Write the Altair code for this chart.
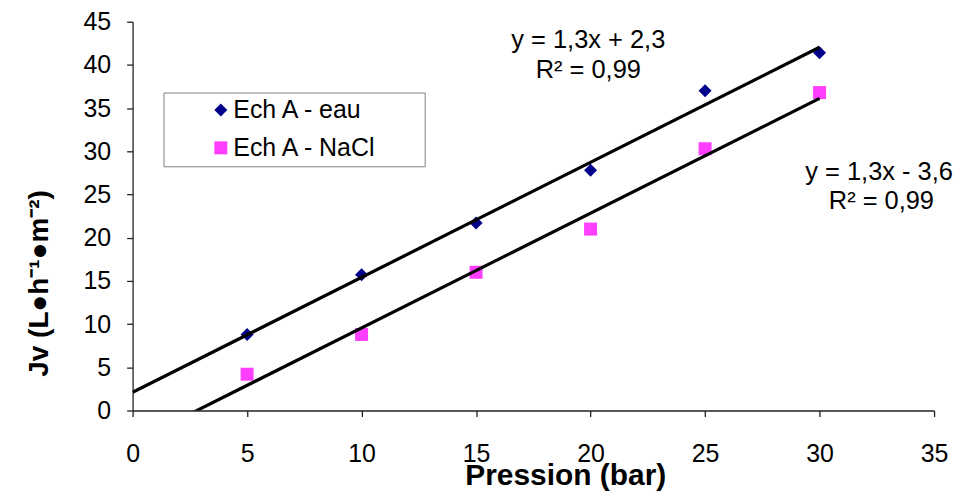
import altair as alt
import pandas as pd

pression = [5, 10, 15, 20, 25, 30]
jv_eau = [8.8, 15.7, 21.7, 27.8, 37.0, 41.4]
jv_nacl = [4.2, 8.8, 16.0, 21.0, 30.3, 36.8]
series = ["Ech A - eau", "Ech A - NaCl"]
colors = ["#00008B", "#FF3FFF"]
shapes = ["diamond", "square"]

eq_text = ["y = 1,3x + 2,3", "R² = 0,99", "y = 1,3x - 3,6", "R² = 0,99"]
eq_x = [19.9, 19.9, 32.6, 32.7]
eq_y = [42.9, 39.4, 27.6, 24.2]

x_ticks = [0, 5, 10, 15, 20, 25, 30, 35]
y_ticks = [0, 5, 10, 15, 20, 25, 30, 35, 40, 45]

FONT = "Liberation Sans, Arial, Helvetica, sans-serif"
PAD = " " * 6 + "\u200b"

rows = []
for p, v in zip(pression, jv_eau):
    rows.append({"pression": p, "jv": v, "serie": series[0]})
for p, v in zip(pression, jv_nacl):
    rows.append({"pression": p, "jv": v, "serie": series[1]})
df = pd.DataFrame(rows)
ann = pd.DataFrame({"x": eq_x, "y": eq_y, "t": eq_text})

xscale = alt.Scale(domain=[0, 35], nice=False, zero=False)
yscale = alt.Scale(domain=[0, 45], nice=False, zero=False)

xaxis = alt.Axis(
    values=x_ticks, grid=False, title="Pression (bar)", labelFlush=False,
    labelFontSize=25, labelFont=FONT, labelColor="#000", labelPadding=25,
    tickSize=6, tickColor="#222", domainColor="#222", tickWidth=1.3, domainWidth=1.3,
    titleFont=FONT, titleFontSize=30, titleFontWeight="bold", titleColor="#000",
    titleX=434, titleY=74, titleBaseline="alphabetic", titleAlign="center",
)
yaxis = alt.Axis(
    values=y_ticks, grid=False, title="Jv (L●h⁻¹●m⁻²)", labelFlush=False,
    labelFontSize=25, labelFont=FONT, labelColor="#000", labelPadding=16,
    tickSize=6, tickColor="#222", domainColor="#222", tickWidth=1.3, domainWidth=1.3,
    titleFont=FONT, titleFontSize=28, titleFontWeight="bold", titleColor="#000",
    titleX=-85, titleY=262, titleAngle=270, titleBaseline="alphabetic", titleAlign="center",
)

points = alt.Chart(df).mark_point(filled=True, opacity=1, size=170).encode(
    x=alt.X("pression:Q", scale=xscale, axis=xaxis),
    y=alt.Y("jv:Q", scale=yscale, axis=yaxis),
    color=alt.Color("serie:N", scale=alt.Scale(domain=series, range=colors),
                    legend=alt.Legend(
                        title=None, orient="none", legendX=31, legendY=71,
                        strokeColor="#808080", fillColor="white", padding=5,
                        labelFont=FONT, labelFontSize=25, labelColor="#000",
                        labelLimit=400,
                        symbolOffset=40, labelOffset=0, rowPadding=12,
                        symbolSize=170, symbolStrokeWidth=0,
                        labelExpr="datum.label + '" + PAD + "'",
                    )),
    shape=alt.Shape("serie:N", scale=alt.Scale(domain=series, range=shapes)),
)

lines = alt.Chart(df).transform_regression(
    "pression", "jv", groupby=["serie"], extent=[0, 30]
).mark_line(color="black", strokeWidth=3.2, clip=True).encode(
    x=alt.X("pression:Q", scale=xscale),
    y=alt.Y("jv:Q", scale=yscale),
    detail="serie:N",
)

texts = alt.Chart(ann).mark_text(font=FONT, fontSize=25.5, color="#000", align="center", baseline="middle").encode(
    x=alt.X("x:Q", scale=xscale),
    y=alt.Y("y:Q", scale=yscale),
    text="t:N",
)

chart = alt.layer(points, lines, texts).properties(
    width=804, height=390,
    autosize=alt.AutoSizeParams(type="none"),
    padding={"left": 125, "top": 13, "right": 20, "bottom": 85},
    background="white",
).configure_view(stroke=None)

chart.save("out.html", embed_options={"renderer": "svg", "actions": False})
